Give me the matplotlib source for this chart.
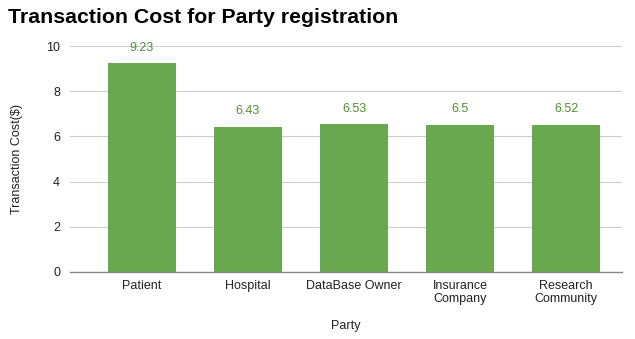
import matplotlib.pyplot as plt

# transaction cost per party registration
parties = ["Patient", "Hospital", "DataBase Owner", "Insurance\nCompany", "Research\nCommunity"]
costs = [9.23, 6.43, 6.53, 6.5, 6.52]
cost_labels = ["9.23", "6.43", "6.53", "6.5", "6.52"]
yticks = [0, 2, 4, 6, 8, 10]

plt.rcParams['font.family'] = ['Liberation Sans', 'DejaVu Sans']

fig = plt.figure(figsize=(6.35, 3.39), dpi=100)
ax = fig.add_axes([0.110, 0.198, 0.870, 0.666])

green = "#6aa84f"
x = range(len(parties))
bars = ax.bar(x, costs, width=0.64, color=green, zorder=3)
for b, lab in zip(bars, cost_labels):
    ax.annotate(lab, (b.get_x() + b.get_width() / 2, b.get_height()),
                xytext=(0, 7), textcoords="offset points",
                ha="center", va="bottom", fontsize=9, color="#4f8f34")

ax.set_xlim(-0.68, 4.53)
ax.set_ylim(0, 10)
ax.set_yticks(yticks)
ax.set_yticklabels([str(t) for t in yticks], fontsize=9, color="#222222")
ax.set_xticks(list(x))
ax.set_xticklabels(parties, fontsize=9, color="#222222", linespacing=1.1)
ax.tick_params(axis="y", length=0, pad=7)
ax.tick_params(axis="x", length=0, pad=6)
ax.grid(axis="y", color="#cccccc", linewidth=0.8, zorder=0)
for s in ["top", "right", "left"]:
    ax.spines[s].set_visible(False)
ax.spines["bottom"].set_color("#888888")
ax.spines["bottom"].set_linewidth(1.0)
ax.spines["bottom"].set_zorder(4)

ax.set_ylabel("Transaction Cost($)", fontsize=9, color="#222222", labelpad=17)
ax.set_xlabel("Party", fontsize=9, color="#222222", labelpad=11)

fig.text(0.012, 0.948, "Transaction Cost for Party registration",
         fontsize=15.3, fontweight="bold", color="#000000", va="center", ha="left")

fig.savefig("out.png", dpi=100)
